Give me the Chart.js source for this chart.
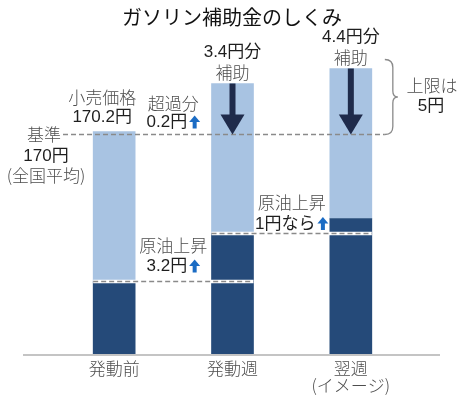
<!DOCTYPE html>
<html lang="ja">
<head>
<meta charset="utf-8">
<script src="https://cdn.jsdelivr.net/npm/chart.js@4"></script>
<style>
  html, body { margin: 0; padding: 0; background: #fff; }
  #wrap { width: 464px; height: 399px; position: relative; }
</style>
</head>
<body>
<div id="wrap"><canvas id="chart" width="464" height="399"></canvas></div>
<script>
"use strict";

// データ(円)
const categories = ["発動前", "発動週", "翌週"];
const categoryNotes = ["", "", "(イメージ)"];
const crudeLevel = [160.2, 163.4, 164.4];   // 濃い部分の上端
const retailPrice = [170.2, 173.4, 174.4];  // 補助前の小売価格
const subsidy = [0, 3.4, 4.4];
const crudeRise = [0, 3.2, 1];
const basePrice = 170;
const capAmount = 5;

const Y_MIN = 155.3;
const PX_PER_YEN = 15;
const PLOT_H = 335;

const LIGHT = "#a8c3e2";
const DARK = "#254a79";
const ARROW = "#1f2b4b";
const UP_BLUE = "#1b6cc4";
const JP_FONT = "300 17px 'Noto Sans CJK JP', sans-serif";
const NUM_FONT = "17px 'Liberation Sans', 'Noto Sans CJK JP', sans-serif";

function upArrow(ctx, cx, top) {
  ctx.fillStyle = UP_BLUE;
  ctx.beginPath();
  ctx.moveTo(cx, top);
  ctx.lineTo(cx - 5.5, top + 6.5);
  ctx.lineTo(cx + 5.5, top + 6.5);
  ctx.closePath();
  ctx.fill();
  ctx.fillRect(cx - 2, top + 6, 4, 7);
}

function label(ctx, text, x, y, color, font) {
  ctx.fillStyle = color;
  ctx.font = font;
  ctx.textAlign = "center";
  ctx.textBaseline = "middle";
  ctx.fillText(text, x, y);
}
const jp = (ctx, text, x, y) => label(ctx, text, x, y, "#4d4d4d", JP_FONT);
const num = (ctx, text, x, y) => label(ctx, text, x, y, "#1e1e1e", NUM_FONT);

function numWithArrow(ctx, text, cx, cy) {
  ctx.font = NUM_FONT;
  const w = ctx.measureText(text).width;
  const total = w + 2 + 11;
  const start = cx - total / 2;
  ctx.fillStyle = "#1e1e1e";
  ctx.textAlign = "left";
  ctx.textBaseline = "middle";
  ctx.fillText(text, start, cy);
  upArrow(ctx, start + w + 2 + 5.5, cy - 7);
}

function dashed(ctx, x0, x1, yy, onBars) {
  ctx.save();
  if (onBars) {
    ctx.strokeStyle = "#ffffff";
    ctx.lineWidth = 3.5;
    ctx.setLineDash([]);
    ctx.beginPath();
    ctx.moveTo(x0, yy);
    ctx.lineTo(x1, yy);
    ctx.stroke();
  }
  ctx.strokeStyle = "#8a8a8a";
  ctx.lineWidth = 1.5;
  ctx.setLineDash([5, 3]);
  ctx.beginPath();
  ctx.moveTo(x0, yy);
  ctx.lineTo(x1, yy);
  ctx.stroke();
  ctx.restore();
}

const annotations = {
  id: "annotations",
  afterDatasetsDraw(chart) {
    const ctx = chart.ctx;
    const area = chart.chartArea;
    const x = chart.scales.x;
    const y = chart.scales.y;
    const bars = chart.getDatasetMeta(1).data;
    const left = (i) => bars[i].x - bars[i].width / 2;
    const right = (i) => bars[i].x + bars[i].width / 2;
    const cx = (i) => x.getPixelForValue(i);

    // 横軸の線
    ctx.save();
    ctx.strokeStyle = "#c4c4c4";
    ctx.lineWidth = 2;
    ctx.beginPath();
    ctx.moveTo(area.left - 32, area.bottom);
    ctx.lineTo(area.right + 30, area.bottom);
    ctx.stroke();
    ctx.restore();

    // 原油価格の点線
    for (let i = 0; i < 2; i++) {
      dashed(ctx, left(i), right(i + 1), y.getPixelForValue(crudeLevel[i]), true);
    }

    // 基準線と上限の括弧
    const yBase = y.getPixelForValue(basePrice);
    const yCap = y.getPixelForValue(basePrice + capAmount);
    const bx = right(2) + 13;
    dashed(ctx, 63, bx, yBase, false);

    ctx.save();
    ctx.strokeStyle = "#8a8a8a";
    ctx.lineWidth = 1.3;
    const yMid = (yCap + yBase) / 2;
    ctx.beginPath();
    ctx.moveTo(bx, yCap);
    ctx.quadraticCurveTo(bx + 8, yCap, bx + 8, yCap + 8);
    ctx.lineTo(bx + 8, yMid - 6);
    ctx.quadraticCurveTo(bx + 8, yMid, bx + 13, yMid);
    ctx.quadraticCurveTo(bx + 8, yMid, bx + 8, yMid + 6);
    ctx.lineTo(bx + 8, yBase - 8);
    ctx.quadraticCurveTo(bx + 8, yBase, bx, yBase);
    ctx.stroke();
    ctx.restore();

    // 補助の矢印
    for (let i = 1; i < 3; i++) {
      const yTop = y.getPixelForValue(retailPrice[i]);
      const yTip = y.getPixelForValue(retailPrice[i] - subsidy[i]);
      const c = bars[i].x;
      ctx.fillStyle = ARROW;
      ctx.fillRect(c - 3, yTop, 6, yTip - yTop - 18);
      ctx.beginPath();
      ctx.moveTo(c - 12, yTip - 20);
      ctx.lineTo(c + 12, yTip - 20);
      ctx.lineTo(c, yTip);
      ctx.closePath();
      ctx.fill();
    }

    // タイトル
    label(ctx, "ガソリン補助金のしくみ", 232, 17, "#111", "20px 'Noto Sans CJK JP', sans-serif");

    // 発動前
    const yR0 = y.getPixelForValue(retailPrice[0]);
    jp(ctx, "小売価格", cx(0) - 12, yR0 - 34);
    num(ctx, retailPrice[0].toFixed(1) + "円", cx(0) - 12, yR0 - 14);
    jp(ctx, "基準", 44, yBase);
    num(ctx, basePrice + "円", 46, yBase + 22);
    jp(ctx, "(全国平均)", 46, yBase + 41);

    const gap1 = (right(0) + left(1)) / 2;
    const gap2 = (right(1) + left(2)) / 2;
    jp(ctx, "超過分", gap1, yBase - 31);
    numWithArrow(ctx, (retailPrice[0] - basePrice).toFixed(1) + "円", gap1, yBase - 12);

    // 補助額
    for (let i = 1; i < 3; i++) {
      const yT = y.getPixelForValue(retailPrice[i]);
      num(ctx, subsidy[i].toFixed(1) + "円分", cx(i), yT - 31);
      jp(ctx, "補助", cx(i), yT - 11);
    }

    jp(ctx, "上限は", 432, yMid - 11);
    num(ctx, capAmount + "円", 431, yMid + 9);

    // 原油上昇
    const yC1 = y.getPixelForValue(crudeLevel[1]);
    jp(ctx, "原油上昇", gap1, yC1 + 12);
    numWithArrow(ctx, crudeRise[1].toFixed(1) + "円", gap1, yC1 + 33);
    const yC2 = y.getPixelForValue(crudeLevel[2]);
    jp(ctx, "原油上昇", gap2, yC2 - 16);
    numWithArrow(ctx, crudeRise[2] + "円なら", gap2, yC2 + 5.5);

    // カテゴリー名
    for (let i = 0; i < categories.length; i++) {
      jp(ctx, categories[i], cx(i), area.bottom + 14);
      if (categoryNotes[i]) jp(ctx, categoryNotes[i], cx(i), area.bottom + 31);
    }
  },
};

new Chart(document.getElementById("chart").getContext("2d"), {
  type: "bar",
  data: {
    labels: categories,
    datasets: [
      {
        label: "原油など",
        data: crudeLevel,
        backgroundColor: DARK,
        barThickness: 42,
      },
      {
        label: "小売価格",
        data: crudeLevel.map((v, i) => [v, retailPrice[i]]),
        backgroundColor: LIGHT,
        barThickness: 42,
      },
    ],
  },
  options: {
    responsive: false,
    animation: false,
    layout: {
      padding: { left: 55, right: 54, top: 399 - 44 - PLOT_H, bottom: 44 },
    },
    plugins: {
      legend: { display: false },
      tooltip: { enabled: false },
    },
    scales: {
      x: { display: false, stacked: true },
      y: {
        display: false,
        stacked: false,
        min: Y_MIN,
        max: Y_MIN + PLOT_H / PX_PER_YEN,
      },
    },
  },
  plugins: [annotations],
});
</script>
</body>
</html>
